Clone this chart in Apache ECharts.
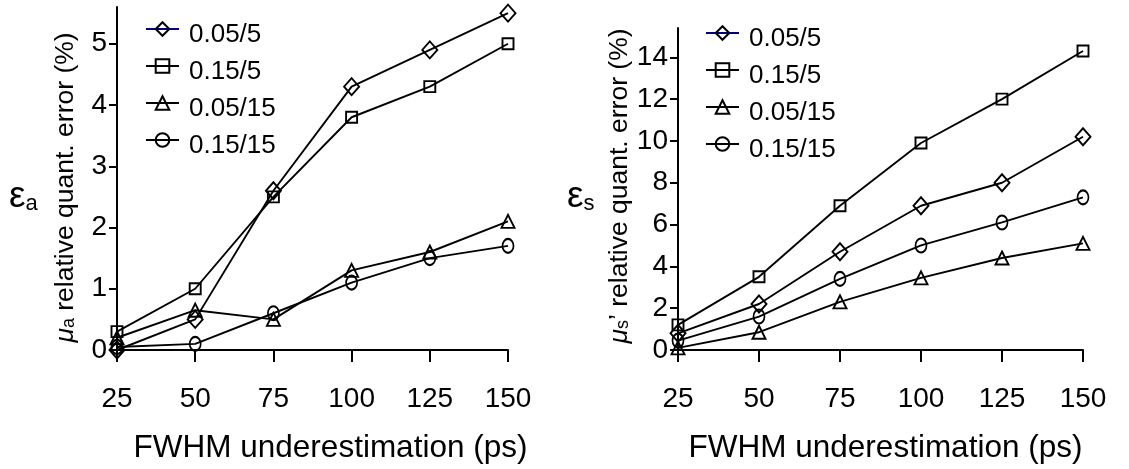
<!DOCTYPE html>
<html>
<head>
<meta charset="utf-8">
<script src="https://cdn.jsdelivr.net/npm/echarts@6/dist/echarts.min.js"></script>
<style>
  html, body { margin: 0; padding: 0; background: #fff; }
  #chart { width: 1129px; height: 469px; }
</style>
</head>
<body>
<div id="chart"></div>
<script>
// FWHM underestimation (ps)
const fwhm = [25, 50, 75, 100, 125, 150];
const seriesNames = ['0.05/5', '0.15/5', '0.05/15', '0.15/15'];

// μa relative quantification error (%)
const muA_005_5  = [0.0, 0.5, 2.6, 4.3, 4.9, 5.5];
const muA_015_5  = [0.3, 1.0, 2.5, 3.8, 4.3, 5.0];
const muA_005_15 = [0.2, 0.65, 0.5, 1.3, 1.6, 2.1];
const muA_015_15 = [0.05, 0.1, 0.6, 1.1, 1.5, 1.7];

// μs' relative quantification error (%)
const muS_005_5  = [0.8, 2.2, 4.7, 6.9, 8.0, 10.2];
const muS_015_5  = [1.2, 3.5, 6.9, 9.9, 12.0, 14.3];
const muS_005_15 = [0.1, 0.85, 2.3, 3.45, 4.4, 5.1];
const muS_015_15 = [0.45, 1.6, 3.4, 5.0, 6.1, 7.3];

// tick labels
const xTicks  = [25, 50, 75, 100, 125, 150];
const yTicksA = [0, 1, 2, 3, 4, 5];
const yTicksS = [0, 2, 4, 6, 8, 10, 12, 14];

const FONT = 'Liberation Sans, Arial, sans-serif';
const INK = '#000';

const symbols = ['diamond', 'rect', 'triangle', 'circle'];
const symbolSizes = [[15, 17], 11, 13, [11, 14]];

function lineSeries(name, values, k, gridIdx) {
  return {
    type: 'line',
    name: name,
    xAxisIndex: gridIdx,
    yAxisIndex: gridIdx,
    data: fwhm.map((x, i) => [x, values[i]]),
    symbol: symbols[k],
    symbolSize: symbolSizes[k],
    showAllSymbol: true,
    lineStyle: { color: INK, width: 1.9 },
    itemStyle: { color: 'rgba(255,255,255,0)', borderColor: INK, borderWidth: 1.9 },
    emphasis: { disabled: true },
    animation: false
  };
}

function xAxisFor(gridIdx, shift) {
  return {
    type: 'value', gridIndex: gridIdx,
    min: 25, max: 150, interval: 25,
    axisLine: { lineStyle: { color: INK, width: 2 } },
    axisTick: { length: 12, lineStyle: { color: INK, width: 2 }, customValues: xTicks },
    axisLabel: { color: INK, fontSize: 28, fontFamily: FONT, margin: 35, customValues: xTicks },
    splitLine: { show: false },
    name: 'FWHM underestimation (ps)',
    nameLocation: 'middle',
    nameGap: 82,
    nameTextStyle: { color: INK, fontSize: 31.5, fontFamily: FONT, padding: [0, 0, 0, shift] }
  };
}

function yAxisFor(gridIdx, max, ticks, sub, extra, gap, pad) {
  return {
    type: 'value', gridIndex: gridIdx,
    min: 0, max: max,
    axisLine: { show: true, lineStyle: { color: INK, width: 2 } },
    axisTick: { show: true, length: 8, lineStyle: { color: INK, width: 2 }, customValues: ticks },
    axisLabel: { color: INK, fontSize: 28, fontFamily: FONT, margin: 10, customValues: ticks },
    splitLine: { show: false },
    name: '{mu|μ}{sub|' + sub + '}{t|' + extra + ' relative quant. error (%)}',
    nameLocation: 'middle',
    nameRotate: 90,
    nameGap: gap,
    nameTextStyle: {
      color: INK, fontFamily: FONT, padding: pad,
      rich: {
        mu:  { fontSize: 26.5, fontStyle: 'italic', fontFamily: FONT, color: INK },
        sub: { fontSize: 18, fontFamily: FONT, color: INK, padding: [8, 0, 0, 0] },
        t:   { fontSize: 26.5, fontFamily: FONT, color: INK }
      }
    }
  };
}

function legendFor(left, top) {
  return {
    orient: 'vertical',
    left: left, top: top,
    padding: 0,
    itemWidth: 33, itemHeight: 17,
    itemGap: 0.5,
    selectedMode: false,
    data: [
      { name: seriesNames[0], lineStyle: { color: '#000080' } },
      { name: seriesNames[1] },
      { name: seriesNames[2] },
      { name: seriesNames[3] }
    ],
    // an empty first line pushes each label slightly below its marker line
    formatter: '{s|}\n{t|{name}}',
    textStyle: {
      color: INK, fontFamily: FONT,
      rich: {
        s: { height: 11, lineHeight: 11, fontSize: 1 },
        t: { fontSize: 26, lineHeight: 25, fontFamily: FONT, color: INK, padding: [0, 0, 0, 5] }
      }
    }
  };
}

function epsLabel(x, y, sub) {
  return {
    type: 'text', left: x, top: y,
    style: {
      text: '{e|ε}{s|' + sub + '}',
      fill: INK,
      rich: {
        e: { fontSize: 37, fontFamily: FONT, fill: INK },
        s: { fontSize: 22, fontFamily: FONT, fill: INK, padding: [14, 0, 0, 0] }
      }
    }
  };
}

const chart = echarts.init(document.getElementById('chart'), null, { renderer: 'canvas' });
chart.setOption({
  backgroundColor: '#fff',
  animation: false,
  grid: [
    { left: 117, top: 7, width: 391, height: 346 },
    { left: 678, top: 28, width: 405, height: 326 }
  ],
  xAxis: [xAxisFor(0, 36), xAxisFor(1, 10)],
  yAxis: [
    yAxisFor(0, 5.6, yTicksA, 'a', '', 38, [0, 18, 0, 0]),
    yAxisFor(1, 15.4, yTicksS, 's', '’', 36, [0, 0, 0, 6])
  ],
  legend: [legendFor(145, 11), legendFor(705, 15)],
  graphic: [epsLabel(9, 178, 'a'), epsLabel(567, 178, 's')],
  series: [
    lineSeries(seriesNames[0], muA_005_5, 0, 0),
    lineSeries(seriesNames[1], muA_015_5, 1, 0),
    lineSeries(seriesNames[2], muA_005_15, 2, 0),
    lineSeries(seriesNames[3], muA_015_15, 3, 0),
    lineSeries(seriesNames[0], muS_005_5, 0, 1),
    lineSeries(seriesNames[1], muS_015_5, 1, 1),
    lineSeries(seriesNames[2], muS_005_15, 2, 1),
    lineSeries(seriesNames[3], muS_015_15, 3, 1)
  ]
});
</script>
</body>
</html>
